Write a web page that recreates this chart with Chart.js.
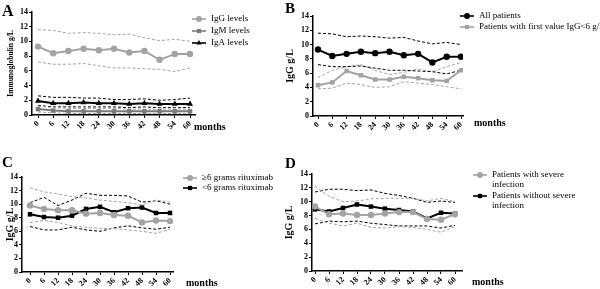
<!DOCTYPE html>
<html lang="en">
<head>
<meta charset="UTF-8">
<title>Immunoglobulin levels over time</title>
<script src="https://cdn.jsdelivr.net/npm/chart.js"></script>
<style>
    body { margin: 0; background: #fff; width: 600px; height: 289px; position: relative; overflow: hidden; font-family: "Liberation Serif", serif; }
    canvas { position: absolute; }
    .lbl { position: absolute; font-weight: bold; color: #000; line-height: 1; }
</style>
</head>
<body>
<canvas id="cA" width="283" height="145" style="left:0;top:0"></canvas>
<canvas id="cB" width="317" height="145" style="left:283px;top:0"></canvas>
<canvas id="cC" width="283" height="144" style="left:0;top:145px"></canvas>
<canvas id="cD" width="317" height="144" style="left:283px;top:145px"></canvas>

<div class="lbl" style="left:2px;top:3px;font-size:16px">A</div>
<div class="lbl" style="left:285px;top:1px;font-size:15px">B</div>
<div class="lbl" style="left:2px;top:155px;font-size:15px">C</div>
<div class="lbl" style="left:285px;top:156px;font-size:15px">D</div>
<div class="lbl" style="left:194px;top:122px;font-size:10px">months</div>
<div class="lbl" style="left:474px;top:118px;font-size:10px">months</div>
<div class="lbl" style="left:186px;top:278px;font-size:10px">months</div>
<div class="lbl" style="left:472px;top:277px;font-size:10px">months</div>

<script>
    const months = [0, 6, 12, 18, 24, 30, 36, 42, 48, 54, 60];

    // A: immunoglobulin levels, all patients
    const igG = [9.3, 8.4, 8.7, 9.0, 8.8, 9.0, 8.5, 8.7, 7.5, 8.3, 8.3];
    const igGUpper = [11.6, 11.5, 11.1, 11.2, 11.1, 10.9, 11.0, 10.5, 10.1, 10.3, 10.0];
    const igGLower = [7.2, 6.9, 6.9, 7.0, 6.7, 6.4, 6.4, 6.3, 6.2, 5.9, 6.4];
    const igM = [0.8, 0.6, 0.5, 0.5, 0.5, 0.5, 0.5, 0.5, 0.5, 0.5, 0.5];
    const igMUpper = [1.2, 1.0, 0.9, 0.9, 0.9, 0.9, 0.8, 0.8, 0.8, 0.8, 0.8];
    const igMLower = [0.4, 0.3, 0.2, 0.2, 0.2, 0.2, 0.2, 0.2, 0.2, 0.2, 0.2];
    const igA = [1.9, 1.6, 1.6, 1.7, 1.6, 1.6, 1.5, 1.6, 1.5, 1.5, 1.5];
    const igAUpper = [2.6, 2.4, 2.4, 2.3, 2.3, 2.1, 2.1, 2.2, 2.0, 2.1, 2.3];
    const igALower = [1.3, 1.1, 1.1, 1.1, 1.1, 1.1, 1.0, 1.1, 1.0, 1.0, 1.0];

    // B: first IgG value < 6 g/L
    const lowFirst = [4.3, 4.7, 6.3, 5.7, 5.1, 5.1, 5.5, 5.3, 5.0, 4.9, 6.4];
    const lowFirstUpper = [5.4, 6.4, 6.9, 7.2, 6.4, 5.8, 6.1, 6.6, 6.2, 6.9, 7.5];
    const lowFirstLower = [3.8, 3.9, 4.6, 4.4, 4.0, 4.1, 4.8, 4.6, 4.4, 4.1, 3.8];

    // C: rituximab dose
    const ritHigh = [9.8, 9.3, 9.1, 9.1, 8.6, 8.7, 8.4, 8.3, 7.3, 7.6, 7.5];
    const ritHighUpper = [12.4, 11.8, 11.5, 11.1, 10.9, 10.6, 10.4, 10.2, 9.9, 10.6, 10.3];
    const ritHighLower = [7.3, 7.6, 7.3, 6.8, 6.6, 6.4, 6.4, 6.2, 6.0, 5.7, 6.3];
    const ritLow = [8.5, 8.1, 8.0, 8.3, 9.3, 9.6, 8.8, 9.4, 9.5, 8.7, 8.7];
    const ritLowUpper = [10.2, 11.0, 9.8, 10.6, 11.6, 11.3, 11.3, 11.2, 10.3, 10.5, 10.0];
    const ritLowLower = [6.7, 6.2, 6.2, 6.6, 6.2, 6.0, 6.5, 6.8, 6.5, 6.3, 6.6];

    // D: severe infection
    const sevInf = [9.3, 8.2, 8.3, 8.1, 8.1, 8.3, 8.5, 8.5, 7.5, 7.4, 8.2];
    const sevInfUpper = [12.2, 10.8, 10.0, 10.1, 10.4, 10.5, 10.5, 10.5, 10.1, 10.5, 10.0];
    const sevInfLower = [7.6, 6.9, 6.5, 6.9, 6.3, 6.2, 6.4, 6.3, 6.0, 5.6, 6.4];
    const noSevInf = [8.9, 8.6, 9.1, 9.6, 9.3, 9.0, 8.8, 8.6, 7.6, 8.4, 8.3];
    const noSevInfUpper = [11.4, 11.8, 11.8, 11.6, 11.7, 11.2, 10.9, 10.5, 9.9, 10.1, 9.9];
    const noSevInfLower = [6.8, 7.2, 7.1, 7.2, 6.9, 6.7, 6.5, 6.5, 6.5, 6.2, 6.6];

    const GREY = '#a3a3a3';
    const DARKGREY = '#7a7a7a';
    const BLACK = '#000';
    const SERIF = '"Liberation Serif", "DejaVu Serif", serif';

    function pts(vals) {
        return vals.map((v, i) => ({ x: months[i], y: v }));
    }

    function line(vals, color, style, radius) {
        return {
            data: pts(vals), borderColor: color, backgroundColor: color,
            borderWidth: 2, pointStyle: style, pointRadius: radius || 3.2,
            pointBorderWidth: 0, pointHoverRadius: 0, order: 0
        };
    }

    function band(vals, color) {
        return {
            data: pts(vals), borderColor: color, borderWidth: 1,
            borderDash: [3, 2], pointRadius: 0, order: 5
        };
    }

    // legend drawn on the right: short line + marker + text
    const sideLegend = {
        id: 'sideLegend',
        afterDraw(chart, args, opts) {
            if (!opts.items) return;
            const ctx = chart.ctx;
            ctx.save();
            opts.items.forEach(it => {
                const ds = chart.data.datasets[it.ds];
                ctx.strokeStyle = ds.borderColor;
                ctx.fillStyle = ds.borderColor;
                ctx.lineWidth = 1.6;
                ctx.setLineDash([]);
                ctx.beginPath();
                ctx.moveTo(opts.x, it.y);
                ctx.lineTo(opts.x + 14, it.y);
                ctx.stroke();
                Chart.helpers.drawPoint(ctx, { pointStyle: ds.pointStyle, radius: 3, rotation: 0, borderWidth: 0 }, opts.x + 7, it.y);
                ctx.fillStyle = '#000';
                ctx.font = '9px ' + SERIF;
                ctx.textBaseline = 'middle';
                it.text.forEach((t, k) => ctx.fillText(t, opts.x + 19, it.y + k * 10));
            });
            ctx.restore();
        }
    };

    function makeChart(id, box, datasets, title, titleSize, titlePad, legend) {
        const cv = document.getElementById(id);
        const perMonth = (box.last - box.first) / 60;
        const xmin = -(box.first - box.left) / perMonth;
        const xmax = 60 + (box.right - box.last) / perMonth;
        const tickFont = { family: SERIF, size: 8, weight: 'bold' };
        new Chart(cv.getContext('2d'), {
            type: 'line',
            data: { datasets: datasets },
            options: {
                responsive: false, animation: false,
                layout: { padding: { left: 0, top: box.top, right: cv.width - box.right, bottom: 0 } },
                plugins: { legend: { display: false }, tooltip: { enabled: false }, sideLegend: legend },
                scales: {
                    x: {
                        type: 'linear', min: xmin, max: xmax,
                        afterBuildTicks: s => { s.ticks = months.map(v => ({ value: v })); },
                        afterFit: s => { s.height = cv.height - box.bottom; },
                        ticks: { autoSkip: false, minRotation: 45, maxRotation: 45, font: tickFont, color: BLACK, padding: 1 },
                        grid: { drawOnChartArea: false, tickLength: 3, color: BLACK, tickWidth: 1 },
                        border: { color: BLACK, width: 1.5 }
                    },
                    y: {
                        min: 0, max: 14,
                        afterFit: s => { s.width = box.left; },
                        ticks: { stepSize: 2, font: tickFont, color: BLACK, padding: 1 },
                        grid: { drawOnChartArea: false, tickLength: 3, color: BLACK, tickWidth: 1 },
                        border: { color: BLACK, width: 1.5 },
                        title: { display: true, text: title, color: BLACK, font: { family: SERIF, size: titleSize, weight: 'bold' }, padding: { top: titlePad, bottom: 0 } }
                    }
                }
            },
            plugins: [sideLegend]
        });
    }

    makeChart('cA', { left: 32, top: 12, right: 195, bottom: 115, first: 38, last: 190 }, [
        band(igGUpper, GREY), band(igGLower, GREY),
        band(igMUpper, GREY), band(igMLower, GREY),
        band(igAUpper, BLACK), band(igALower, BLACK),
        line(igG, GREY, 'circle'), line(igM, DARKGREY, 'rect'), line(igA, BLACK, 'triangle', 3.5)
    ], 'Immunoglobulin g/L', 7.5, 7, { x: 192, items: [
        { ds: 6, y: 19, text: ['IgG levels'] },
        { ds: 7, y: 31, text: ['IgM levels'] },
        { ds: 8, y: 43, text: ['IgA levels'] }
    ] });

    makeChart('cB', { left: 30, top: 16, right: 180, bottom: 116, first: 35, last: 178 }, [
        band(igGUpper, BLACK), band(igGLower, BLACK),
        band(lowFirstUpper, GREY), band(lowFirstLower, GREY),
        line(igG, BLACK, 'circle'), line(lowFirst, GREY, 'rect')
    ], 'IgG g/L', 10, 1.5, { x: 177, items: [
        { ds: 4, y: 16, text: ['All patients'] },
        { ds: 5, y: 27, text: ['Patients with first value IgG<6 g/L'] }
    ] });

    makeChart('cC', { left: 22, top: 32, right: 173, bottom: 127, first: 30, last: 170 }, [
        band(ritHighUpper, GREY), band(ritHighLower, GREY),
        band(ritLowUpper, BLACK), band(ritLowLower, BLACK),
        line(ritHigh, GREY, 'circle'), line(ritLow, BLACK, 'rect')
    ], 'IgG g/L', 10, 4, { x: 183, items: [
        { ds: 4, y: 33, text: ['\u22656 grams rituximab'] },
        { ds: 5, y: 43, text: ['<6 grams rituximab'] }
    ] });

    makeChart('cD', { left: 29, top: 29, right: 179, bottom: 126, first: 32, last: 172 }, [
        band(sevInfUpper, GREY), band(sevInfLower, GREY),
        band(noSevInfUpper, BLACK), band(noSevInfLower, BLACK),
        line(sevInf, GREY, 'circle'), line(noSevInf, BLACK, 'rect')
    ], 'IgG g/L', 10, 0.5, { x: 190, items: [
        { ds: 4, y: 30, text: ['Patients with severe', 'infection'] },
        { ds: 5, y: 51, text: ['Patients without severe', 'infection'] }
    ] });
</script>
</body>
</html>
